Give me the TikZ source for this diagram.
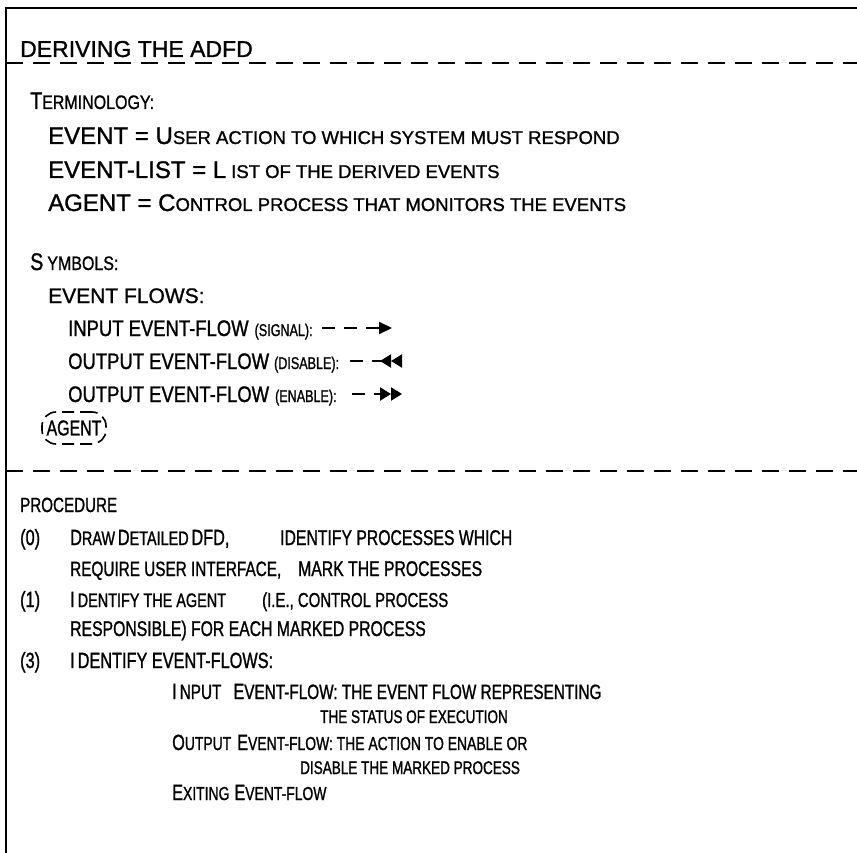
\documentclass[tikz,border=0pt]{standalone}
\usepackage{fontspec}
\setmainfont[FakeBold=1.1]{Liberation Sans}
\newfontfamily\nfont[FakeStretch=0.82,FakeBold=1.1]{Liberation Sans}
\newfontfamily\cfont[FakeStretch=0.74,FakeBold=1.1]{Liberation Sans}
\usetikzlibrary{arrows.meta,positioning}

% capitals: regular, narrow and condensed, size as option
\newcommand{\Cp}[2][24]{{\fontsize{#1}{#1}\selectfont #2}}
\newcommand{\Nw}[2][17.6]{{\nfont\fontsize{#1}{#1}\selectfont #2}}
\newcommand{\Cd}[2][19.5]{{\cfont\fontsize{#1}{#1}\selectfont #2}}

\begin{document}
\begin{tikzpicture}[x=1pt,y=-1pt,
    txt/.style={anchor=base west,inner sep=0pt},
    sepline/.style={line width=2pt,dash pattern=on 17pt off 10pt},
    flow/.style={line width=2.2pt,dash pattern=on 13pt off 9pt on 13pt off 9pt on 60pt},
    agentbox/.style={draw,line width=1.6pt,dash pattern=on 12pt off 6pt,rounded corners=14pt,
      minimum width=64pt,minimum height=32pt,inner sep=2pt}]
\useasboundingbox (0,0) rectangle (857,853);
% frame
\draw[line width=2.4pt] (6,853) -- (6,8) -- (857,8);
\node[txt] (title) at (20,57) {\Cp[23]{DERIVING THE ADFD}};
\draw[sepline] (6,63) -- (857,63);

% terminology
\node[txt] (term) at (30,109) {\Nw[24]{T}\Nw[19.5]{ERMINOLOGY:}};
\node[txt] (ev) at (48,144) {\Cp{EVENT = U}\Cp[18.5]{SER ACTION TO WHICH SYSTEM MUST RESPOND}};
\node[txt] (evl) at (48,178) {\Cp{EVENT-LIST = L}\hspace{5pt}\Cp[18.5]{IST OF THE DERIVED EVENTS}};
\node[txt] (ag) at (48,211) {\Cp{AGENT = C}\Cp[18.5]{ONTROL PROCESS THAT MONITORS THE EVENTS}};

% symbols
\node[txt] (sym) at (30,270) {\Nw[24]{S}\hspace{4pt}\Nw[19.5]{YMBOLS:}};
\node[txt] (flows) at (48,303) {\Cp[21]{EVENT FLOWS:}};
\node[txt] (inp) at (68,336) {\Nw[22.5]{INPUT EVENT-FLOW}\hspace{6pt}\Cd[17]{(SIGNAL):}};
\node[txt] (dis) at (68,369) {\Nw[22.5]{OUTPUT EVENT-FLOW}\hspace{5pt}\Cd[17]{(DISABLE):}};
\node[txt] (ena) at (68,402) {\Nw[22.5]{OUTPUT EVENT-FLOW}\hspace{6pt}\Cd[17]{(ENABLE):}};
\coordinate (inpA) at (322,328);
\coordinate (inpB) at (392,328);
\coordinate (disA) at (350,361);
\coordinate (disB) at (402,361);
\coordinate (enaA) at (352,394);
\coordinate (enaB) at (402,394);
\draw[flow,-{Triangle[length=13pt,width=12pt]}] (inpA) -- (inpB);
\draw[flow,-{Triangle[reversed,length=11pt,width=13pt]Triangle[reversed,length=11pt,width=13pt]}] (disA) -- (disB);
\draw[flow,-{Triangle[length=11pt,width=13pt]Triangle[length=11pt,width=13pt]}] (enaA) -- (enaB);
\node[agentbox] (agent) at (74,428) {\Cd[21.5]{AGENT}};
\draw[sepline] (6,471) -- (857,471);

% procedure
\node[txt] (proc) at (20,512) {\Cd[20.5]{PROCEDURE}};
\node[txt] (n0) at (20,545) {\Cd[22]{(0)}};
\node[txt] (p0) at (70,545) {\Cd[22]{D}\Cd{RAW} \Cd[22]{D}\Cd{ETAILED} \Cd[22]{DFD,}};
\node[txt] (p0r) at (280,545) {\Cd[21.3]{IDENTIFY PROCESSES WHICH}};
\node[txt] (p0b) at (70,576) {\Cd[20.7]{REQUIRE USER INTERFACE,}};
\node[txt] (p0c) at (298,576) {\Cd[21.3]{MARK THE PROCESSES}};
\node[txt] (n1) at (20,607) {\Cd[22]{(1)}};
\node[txt] (p1) at (70,607) {\Cd[22]{I}\hspace{3pt}\Cd{DENTIFY THE AGENT}};
\node[txt] (p1r) at (262,607) {\Cd[20.2]{(I.E., CONTROL PROCESS}};
\node[txt] (p1b) at (70,636) {\Cd[21.3]{RESPONSIBLE) FOR EACH MARKED PROCESS}};
\node[txt] (n3) at (20,668) {\Cd[22]{(3)}};
\node[txt] (p3) at (70,668) {\Cd[22]{I}\hspace{3pt}\Cd[22]{DENTIFY EVENT-FLOWS:}};
\node[txt] (inflow) at (172,699) {\Cd[22]{I}\hspace{3pt}\Cd[20.7]{NPUT}\hspace{12pt}\Cd[22]{E}\Cd[20.7]{VENT-FLOW: THE EVENT FLOW REPRESENTING}};
\node[txt] (inflowb) at (320,723) {\Cd[18.3]{THE STATUS OF EXECUTION}};
\node[txt] (outflow) at (172,750) {\Cd[22]{O}\Cd[18.8]{UTPUT}\hspace{6pt}\Cd[22]{E}\Cd[18.8]{VENT-FLOW: THE ACTION TO ENABLE OR}};
\node[txt] (outflowb) at (300,774) {\Cd[18.3]{DISABLE THE MARKED PROCESS}};
\node[txt] (exflow) at (172,800) {\Cd[22]{E}\Cd[18.8]{XITING}\hspace{5pt}\Cd[22]{E}\Cd[18.8]{VENT-FLOW}};
\end{tikzpicture}
\end{document}
